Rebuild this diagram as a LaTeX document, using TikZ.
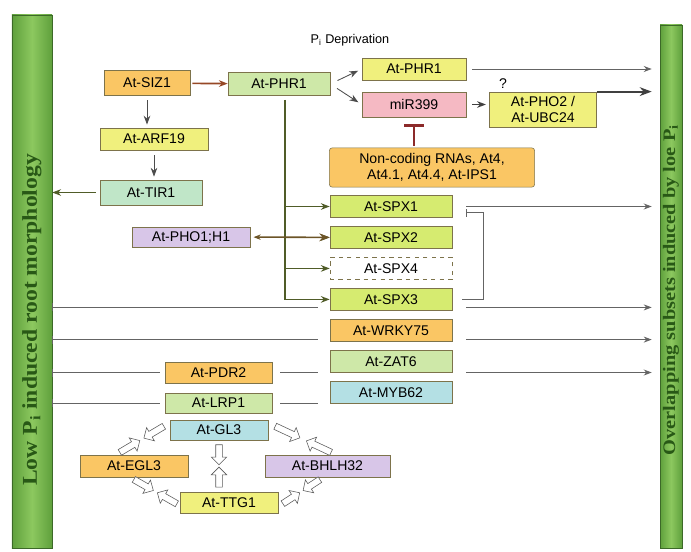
\documentclass[tikz,border=0pt]{standalone}
\usepackage{fontspec}
\setmainfont{Liberation Sans}
\newfontfamily\barfont{Liberation Serif}
\definecolor{GeneOrange}{RGB}{250, 198, 100}
\definecolor{GeneYellow}{RGB}{240, 240, 125}
\definecolor{GeneLime}{RGB}{214, 235, 112}
\definecolor{GeneLeaf}{RGB}{206, 232, 168}
\definecolor{GeneMint}{RGB}{192, 230, 200}
\definecolor{GenePink}{RGB}{245, 185, 195}
\definecolor{GeneLilac}{RGB}{216, 198, 232}
\definecolor{GeneCyan}{RGB}{180, 224, 228}
\definecolor{BoxEdge}{RGB}{125, 115, 75}
\definecolor{PathGreen}{RGB}{80, 92, 40}
\definecolor{PathBrown}{RGB}{150, 72, 38}
\definecolor{InhibRed}{RGB}{140, 42, 42}
\definecolor{LinkGray}{RGB}{100, 100, 100}
\definecolor{BarLight}{RGB}{140, 200, 95}
\definecolor{BarDark}{RGB}{95, 160, 60}
\definecolor{BarEdge}{RGB}{60, 105, 40}
\definecolor{BarText}{RGB}{40, 88, 22}
\usepackage{tikz}
\usetikzlibrary{arrows.meta, positioning, shapes, calc}

\begin{document}
\begin{tikzpicture}[
            x=0.025cm, y=-0.025cm,
            node distance=0.21cm,
            gene/.style={rectangle, draw=BoxEdge, fill=#1, minimum height=0.55cm,
                         inner sep=1pt, align=center, font=\fontsize{10}{11}\selectfont},
            sidebar/.style={rectangle, draw=BarEdge, left color=BarDark, right color=BarDark,
                            middle color=BarLight},
            bartext/.style={rotate=90, text=BarText, inner sep=0pt},
            arrow/.style={-{Stealth[length=2.2mm]}, line width=1.2pt, PathGreen},
            link/.style={LinkGray, semithick},
            tolow/.style={link, {Bar[width=2mm]}-, shorten >=0.3cm},
            toover/.style={link, -{Stealth[length=2mm]}, shorten <=0.35cm, shorten >=0.2cm},
            hollow/.style={single arrow, draw=black!65, fill=white, sloped, allow upside down,
                           inner sep=0.075cm, single arrow head extend=0.11cm, minimum height=#1},
            hollow/.default=0.55cm,
            hollowback/.style={hollow=#1, shape border rotate=180},
            hollowback/.default=0.55cm
        ]
            \useasboundingbox (0,0) rectangle (691,552);

            % Side bars
            \node[sidebar, minimum width=1cm, minimum height=13.33cm] (lowbar) at (32,281.5) {};
            \node[bartext] (lowtext) at (32,320)
                {\scalebox{1.12}[1]{\barfont\bfseries\fontsize{15}{16}\selectfont Low P\textsubscript{i} induced root morphology}};
            \node[sidebar, minimum width=0.55cm, minimum height=13.08cm] (overbar) at (671,286.5) {};
            \node[bartext] (overtext) at (671,290)
                {\scalebox{1.16}[1]{\barfont\bfseries\fontsize{12.5}{14}\selectfont Overlapping subsets induced by loe P\textsubscript{i}}};

            % Top row
            \node (title) at (350,40) {\fontsize{9}{10}\selectfont P\textsubscript{i} Deprivation};
            \node[gene=GeneOrange, minimum width=2.15cm, minimum height=0.62cm] (siz1) at (147,83) {At-SIZ1};
            \node[gene=GeneLeaf, minimum width=2.55cm, minimum height=0.58cm] (phr1) at (279,84) {At-PHR1};
            \node[gene=GeneYellow, minimum width=2.6cm] (phr1b) at (414,69) {At-PHR1};
            \node[gene=GenePink, minimum width=2.6cm, minimum height=0.62cm] (mir399) at (414,104.5) {miR399};
            \node[gene=GeneYellow, minimum width=2.68cm, minimum height=0.88cm] (pho2) at (543,109.5) {At-PHO2 /\\At-UBC24};
            \node (qmark) at (503,84) {?};
            \node[gene=GeneOrange, rounded corners=2pt, minimum width=5.13cm, minimum height=0.98cm] (ncrna)
                at (432,167.5) {Non-coding RNAs, At4,\\At4.1, At4.4, At-IPS1};

            % Auxin column
            \node[gene=GeneYellow, minimum width=2.7cm] (arf19) at (154,139) {At-ARF19};
            \node[gene=GeneMint, minimum width=2.55cm, minimum height=0.62cm] (tir1) at (151,192.5) {At-TIR1};

            % SPX column
            \node[gene=GeneLime, minimum width=3.05cm] (spx1) at (391,206.5) {At-SPX1};
            \node[gene=GeneLime, minimum width=3.05cm, below=of spx1] (spx2) {At-SPX2};
            \node[gene=white, dashed, minimum width=3.05cm, below=of spx2] (spx4) {At-SPX4};
            \node[gene=GeneLime, minimum width=3.05cm, below=of spx4] (spx3) {At-SPX3};
            \node[gene=GeneOrange, minimum width=3.05cm, below=of spx3] (wrky75) {At-WRKY75};
            \node[gene=GeneLeaf, minimum width=3.05cm, below=of wrky75] (zat6) {At-ZAT6};
            \node[gene=GeneCyan, minimum width=3.05cm, below=of zat6] (myb62) {At-MYB62};
            \node[gene=GeneLilac, minimum width=2.95cm, minimum height=0.5cm] (pho1h1) at (191,237) {At-PHO1;H1};

            % Root hair cluster
            \node[gene=GeneOrange, minimum width=2.68cm, minimum height=0.53cm] (pdr2) at (218.5,372.5) {At-PDR2};
            \node[gene=GeneLeaf, minimum width=2.68cm, minimum height=0.5cm] (lrp1) at (218.5,403) {At-LRP1};
            \node[gene=GeneCyan, minimum width=2.45cm, minimum height=0.5cm] (gl3) at (219,430) {At-GL3};
            \node[gene=GeneOrange, minimum width=2.7cm] (egl3) at (134,466) {At-EGL3};
            \node[gene=GeneLilac, minimum width=3.13cm] (bhlh32) at (327.5,466) {At-BHLH32};
            \node[gene=GeneYellow, minimum width=2.45cm, minimum height=0.53cm] (ttg1) at (229,502.5) {At-TTG1};

            % Arrows
            \draw[arrow, PathBrown, shorten <=0.05cm] (siz1) -- (phr1);
            \draw[arrow, semithick, black!70, shorten <=0.12cm, shorten >=0.08cm] (siz1.south) -- (siz1.south |- arf19.north);
            \draw[arrow, semithick, black!70, shorten <=0.12cm, shorten >=0.08cm] (arf19.south) -- (arf19.south |- tir1.north);
            \draw[arrow, semithick, shorten <=0.1cm] (tir1) -- (tir1 -| lowbar.east);
            \draw[arrow, semithick, black!70, shorten <=0.2cm, shorten >=0.1cm] (phr1.east) -- (phr1b.west);
            \draw[arrow, semithick, black!70, shorten <=0.2cm, shorten >=0.1cm] (phr1.east) -- (mir399.west);
            \draw[arrow, black!75, shorten <=0.15cm, shorten >=0.08cm] (mir399) -- (mir399 -| pho2.west);
            \draw[InhibRed, line width=2pt, -{Bar[width=4.8mm]}, shorten <=0.05cm, shorten >=0.18cm]
                (mir399.south |- ncrna.north) -- (mir399.south);

            % PHR1 trunk
            \coordinate (trunk) at ([xshift=0.15cm]phr1.south);
            \draw[arrow] ([yshift=-0.1cm]trunk) |- (spx3);
            \draw[arrow] (trunk |- spx1) -- (spx1);
            \draw[arrow] (trunk |- spx2) -- (spx2);
            \draw[arrow] (trunk |- spx4) -- (spx4);
            \draw[{Stealth[length=1.8mm]}-{Stealth[length=2.6mm]}, line width=1.1pt, PathGreen!60!PathBrown,
                shorten <=0.08cm] (pho1h1) -- (spx2);
            \draw[link, -{Bar[width=2mm]}] ($(spx3.east)+(10,0)$) -- ($(spx3.east)+(31,0)$) |- ($(spx1.east)+(14,6)$);

            % To the side bars
            \draw[toover, shorten <=0.15cm] (phr1b) -- (phr1b -| overbar.west);
            \draw[link, line width=1.4pt, black!75, -{Stealth[length=3mm, width=2.2mm]}, shorten >=0.2cm]
                (pho2.north east) -- (pho2.north east -| overbar.west);
            \draw[toover] (spx1) -- (spx1 -| overbar.west);
            \coordinate (lane3) at ([yshift=-0.2cm]spx3.center);
            \coordinate (lane75) at ([yshift=-0.23cm]wrky75.center);
            \draw[tolow] (lowbar.east |- lane3) -- (spx3.west |- lane3);
            \draw[toover] (spx3.east |- lane3) -- (overbar.west |- lane3);
            \draw[tolow] (lowbar.east |- lane75) -- (wrky75.west |- lane75);
            \draw[toover] (wrky75.east |- lane75) -- (overbar.west |- lane75);
            \draw[tolow, shorten >=0.12cm] (lowbar.east |- pdr2) -- (pdr2.west);
            \draw[link, shorten <=0.2cm, shorten >=0.3cm] (pdr2) -- (pdr2 -| zat6.west);
            \draw[toover] (zat6.east |- pdr2) -- (overbar.west |- pdr2);
            \draw[tolow, shorten >=0.12cm] (lowbar.east |- lrp1) -- (lrp1.west);
            \draw[link, shorten <=0.2cm, shorten >=0.3cm] (lrp1) -- (lrp1 -| myb62.west);

            % Hollow arrows
            \path ($(egl3.north)+(-18,0)$) -- ($(gl3.west)+(-2,-6)$)
                node[hollow=0.58cm, pos=0.24] (ha1) {} node[hollowback=0.58cm, pos=0.76] (ha2) {};
            \path ($(bhlh32.north)+(8.5,0)$) -- ($(gl3.east)+(2,-6)$)
                node[hollow=0.68cm, pos=0.24] (hb1) {} node[hollowback=0.68cm, pos=0.76] (hb2) {};
            \path (gl3.south) -- (gl3.south |- ttg1.north)
                node[hollow=0.5cm, pos=0.25] (hc1) {} node[hollowback=0.5cm, pos=0.75] (hc2) {};
            \path ($(egl3.south)+(-4,0)$) -- ($(ttg1.west)+(1,3.5)$)
                node[hollow=0.56cm, pos=0.24] (hd1) {} node[hollowback=0.56cm, pos=0.76] (hd2) {};
            \path ($(bhlh32.south)+(-4,0)$) -- ($(ttg1.east)+(1,3.5)$)
                node[hollow=0.5cm, pos=0.24] (he1) {} node[hollowback=0.5cm, pos=0.76] (he2) {};
        \end{tikzpicture}
\end{document}
